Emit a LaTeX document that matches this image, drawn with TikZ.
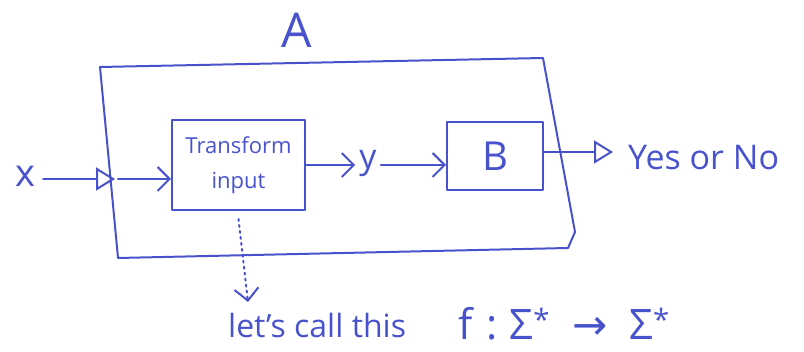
\documentclass[tikz,border=0pt]{standalone}
\usepackage{fontspec}
\setmainfont{Open Sans}
\newfontfamily\symfont{DejaVu Sans}
\usetikzlibrary{arrows.meta}
\definecolor{ink}{RGB}{72,82,205}
\begin{document}
\begin{tikzpicture}[x=1pt,y=-1pt,
  inkline/.style={draw=ink, line width=2pt, line cap=round, line join=round},
  lbl/.style={text=ink, inner sep=0pt},
  port/.style={-{Triangle[open,length=19pt,width=23pt,line width=2pt]}},
  vtip/.style={-{Straight Barb[length=12pt,width=24pt,line width=2pt]}},
  blk/.style={inkline, text=ink, inner sep=0pt}]
\useasboundingbox (0,0) rectangle (804,352);
% outer box A
\coordinate (A-nw) at (100,67);
\coordinate (A-ne) at (543,58);
\coordinate (A-e) at (575,232);
\coordinate (A-se) at (568,248);
\coordinate (A-sw) at (118,258);
\draw[inkline] (A-nw) -- (A-ne) -- (A-e) -- (A-se) -- (A-sw) -- cycle;
\node[lbl, font=\fontsize{48}{48}\selectfont] (Alabel) at (297,30) {A};
% input
\node[lbl, font=\fontsize{38}{38}\selectfont] (x) at (25,176) {x};
\coordinate (pin) at (115,179);
\coordinate (pout) at (118,179);
\draw[inkline, port, shorten <=8pt] (x.east |- pin) -- (pin);
% transform
\node[blk, minimum width=133pt, minimum height=90pt, align=center,
  font=\fontsize{22}{35}\selectfont] (T) at (238.5,165) {Transform\\input};
\draw[inkline, vtip] (pout) -- (T.west |- pout);
% y
\node[lbl, font=\fontsize{34}{34}\selectfont] (y) at (368,163) {y};
\draw[inkline, vtip, shorten >=4pt] (T.east) -- (y.west |- T.east);
% B
\node[blk, minimum width=96pt, minimum height=68pt,
  font=\fontsize{40}{40}\selectfont] (B) at (495,156) {B};
\draw[inkline, vtip, shorten <=4pt] (y.east |- T.east) -- (B.west |- T.east);
% output
\coordinate (out) at (613,152);
\draw[inkline, port] (B.east |- out) -- (out);
\node[lbl, anchor=base west, font=\fontsize{34}{34}\selectfont] (yn) at (628,170) {Yes or No};
% dotted pointer
\coordinate (call) at (248,302);
\draw[inkline, dash pattern=on 2pt off 4pt, vtip] ([yshift=-8pt]T.south) -- (call);
\node[lbl, anchor=base west, font=\fontsize{32}{32}\selectfont] (let) at (228,338) {let's call this};
\node[lbl, anchor=base west, font=\fontsize{42}{42}\selectfont] (f) at (458,340)
  {f\hspace{14pt}:\hspace{12pt}Σ\textsuperscript{*}\hspace{22pt}{\symfont →}\hspace{22pt}Σ\textsuperscript{*}};
\end{tikzpicture}
\end{document}
